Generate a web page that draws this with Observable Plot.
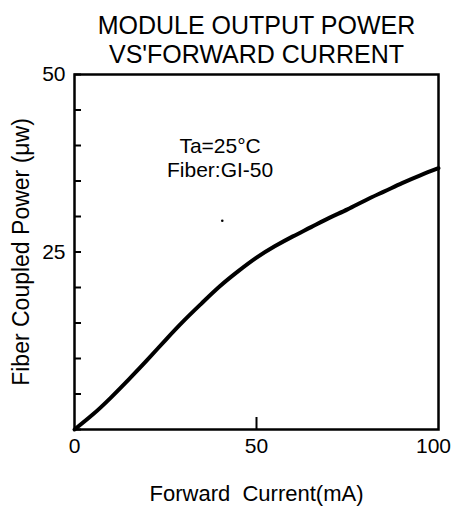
<!DOCTYPE html>
<html>
<head>
<meta charset="utf-8">
<script src="https://cdn.jsdelivr.net/npm/d3@7"></script>
<script src="https://cdn.jsdelivr.net/npm/@observablehq/plot@0.6"></script>
<style>
  html, body { margin: 0; padding: 0; background: #fff; }
  #chart svg { display: block; }
</style>
</head>
<body>
<div id="chart"></div>
<script>
// Data
const current = [0, 5, 10, 15, 20, 25, 30, 35, 40, 45, 50, 55, 60, 65, 70, 75, 80, 85, 90, 95, 100];
const power   = [0, 2.1, 4.5, 7.1, 9.8, 12.6, 15.3, 17.8, 20.2, 22.3, 24.2, 25.8, 27.2, 28.5, 29.8, 31.0, 32.3, 33.5, 34.7, 35.8, 36.8];

const xTickLabels = [0, 50];
const xTickLabelsEnd = [100];
const xInnerTicks = [50];
const yTicks = [0, 5, 10, 15, 20, 25, 30, 35, 40, 45, 50];
const yTickLabels = [25, 50];

const titleText = "MODULE OUTPUT POWER\nVS'FORWARD CURRENT";
const xLabel = "Forward  Current(mA)";
const yLabel = "Fiber Coupled Power (\u03BCw)";
const noteText = "Ta=25\u00B0C\nFiber:GI-50";
const noteX = [40];
const noteY = [35.5];
const speckX = [40.6];
const speckY = [29.4];

const data = current.map((c, i) => ({current: c, power: power[i]}));

const chart = Plot.plot({
  width: 452,
  height: 506,
  marginLeft: 74,
  marginRight: 14,
  marginTop: 74,
  marginBottom: 77,
  style: {fontFamily: "'Liberation Sans', Arial, sans-serif", color: "#000", background: "#fff"},
  x: {domain: [0, 100]},
  y: {domain: [0, 50]},
  marks: [
    Plot.frame({stroke: "#000", strokeWidth: 2.5}),
    // inward ticks
    Plot.axisY({ticks: yTicks, tickSize: -7, text: null, strokeWidth: 2, label: null}),
    Plot.axisX({ticks: xInnerTicks, tickSize: -12, text: null, strokeWidth: 2, label: null}),
    // tick labels
    Plot.axisY({ticks: yTickLabels, tickSize: 0, tickPadding: 9, fontSize: 21, label: null}),
    Plot.axisX({ticks: xTickLabels, tickSize: 0, tickPadding: 9, fontSize: 21, label: null}),
    Plot.axisX({ticks: xTickLabelsEnd, tickSize: 0, tickPadding: 9, fontSize: 21, dx: -5, label: null}),
    // curve
    Plot.line(data, {x: "current", y: "power", curve: "natural", stroke: "#000", strokeWidth: 4}),
    // annotation
    Plot.text([noteText], {x: noteX, y: noteY, text: d => d, fontSize: 21, lineAnchor: "bottom", lineHeight: 1.15, textAnchor: "middle", fill: "#000"}),
    Plot.dot([0], {x: speckX, y: speckY, r: 1.3, fill: "#000", stroke: null}),
    // title
    Plot.text([titleText], {frameAnchor: "top", dy: -12, text: d => d, fontSize: 25, lineAnchor: "bottom", lineHeight: 1.16, textAnchor: "middle", fill: "#000"}),
    // axis labels
    Plot.text([xLabel], {frameAnchor: "bottom", dy: 64, text: d => d, fontSize: 22, lineAnchor: "middle", textAnchor: "middle", fill: "#000"}),
    Plot.text([yLabel], {frameAnchor: "left", dx: -53, text: d => d, fontSize: 23, rotate: -90, lineAnchor: "middle", textAnchor: "middle", fill: "#000"})
  ]
});
document.getElementById("chart").appendChild(chart);
</script>
</body>
</html>
